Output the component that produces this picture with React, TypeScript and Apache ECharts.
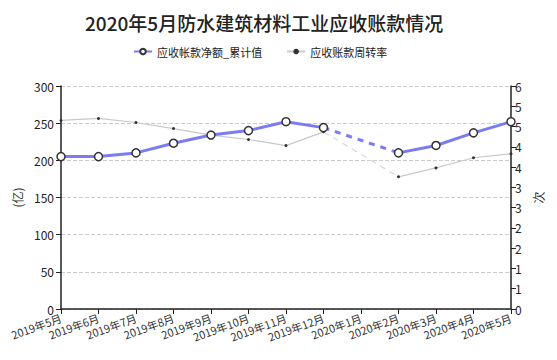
import React, { useEffect, useRef } from "react";
import * as echarts from "echarts";

const categories = [
  "2019年5月", "2019年6月", "2019年7月", "2019年8月", "2019年9月", "2019年10月",
  "2019年11月", "2019年12月", "2020年1月", "2020年2月", "2020年3月", "2020年4月", "2020年5月",
];
const receivables: (number | null)[] = [205, 205, 210, 223, 234, 240, 252, 244, null, 210, 220, 237, 252];
const turnover: (number | null)[] = [4.65, 4.7, 4.6, 4.45, 4.29, 4.18, 4.03, 4.37, null, 3.26, 3.48, 3.73, 3.83];
const receivablesGap: (number | null)[] = [null, null, null, null, null, null, null, 244, null, 210, null, null, null];
const turnoverGap: (number | null)[] = [null, null, null, null, null, null, null, 4.37, null, 3.26, null, null, null];

const FONT = "'Noto Sans CJK SC', 'DejaVu Sans', sans-serif";

export default function App() {
  const ref = useRef<HTMLDivElement>(null);
  useEffect(() => {
    const chart = echarts.init(ref.current!, null, { renderer: "svg" });
    chart.setOption({
      animation: false,
      textStyle: { fontFamily: FONT },
      title: {
        text: "2020年5月防水建筑材料工业应收账款情况",
        left: 80,
        top: 8,
        textStyle: { fontSize: 19, fontWeight: 500, color: "#222", fontFamily: FONT },
      },
      legend: {
        top: 41,
        left: 128,
        itemGap: 24,
        itemWidth: 18,
        itemHeight: 7,
        textStyle: { fontSize: 11, color: "#222", fontFamily: FONT },
        data: [
          { name: "应收帐款净额_累计值" },
          { name: "应收账款周转率" },
        ],
      },
      grid: { left: 61, right: 46, top: 86, bottom: 51 },
      xAxis: {
        type: "category",
        data: categories,
        boundaryGap: false,
        axisLine: { lineStyle: { color: "#222", width: 1.5 } },
        axisTick: { alignWithLabel: true, lineStyle: { color: "#222" } },
        axisLabel: { rotate: 20, fontSize: 11, color: "#333", margin: 8, interval: 0 },
      },
      yAxis: [
        {
          type: "value",
          min: 0,
          max: 300,
          interval: 50,
          name: "(亿)",
          nameLocation: "middle",
          nameGap: 27,
          nameTextStyle: { fontSize: 12, color: "#333" },
          axisLine: { show: true, lineStyle: { color: "#222", width: 1.5 } },
          axisTick: { show: true, lineStyle: { color: "#222" } },
          axisLabel: { fontSize: 12, color: "#222", margin: 7 },
          splitLine: { show: true, lineStyle: { color: "#ccc", type: "dashed" } },
        },
        {
          type: "value",
          min: 0,
          max: 5.5,
          interval: 0.5,
          name: "次",
          nameLocation: "middle",
          nameGap: 21,
          nameTextStyle: { fontSize: 12, color: "#333" },
          axisLine: { show: true, lineStyle: { color: "#222", width: 1.5 } },
          axisTick: { show: true, lineStyle: { color: "#222" } },
          axisLabel: {
            fontSize: 12,
            color: "#222",
            margin: 4,
            formatter: (v: number) => v.toFixed(0),
          },
          splitLine: { show: false },
        },
      ],
      series: [
        {
          name: "应收账款周转率",
          type: "line",
          yAxisIndex: 1,
          data: turnover,
          symbol: "circle",
          symbolSize: 3,
          itemStyle: { color: "#333" },
          lineStyle: { color: "#c8c8c8", width: 1.2 },
          z: 2,
        },
        {
          name: "turnoverGap",
          type: "line",
          yAxisIndex: 1,
          data: turnoverGap,
          connectNulls: true,
          symbol: "none",
          lineStyle: { color: "#d8d8d8", width: 1.2, type: [6, 5] },
          z: 1,
        },
        {
          name: "应收帐款净额_累计值",
          type: "line",
          yAxisIndex: 0,
          data: receivables,
          symbol: "circle",
          symbolSize: 8,
          itemStyle: { color: "#fff", borderColor: "#333", borderWidth: 1.5 },
          lineStyle: { color: "#7b7bf2", width: 3 },
          z: 4,
        },
        {
          name: "receivablesGap",
          type: "line",
          yAxisIndex: 0,
          data: receivablesGap,
          connectNulls: true,
          symbol: "none",
          lineStyle: { color: "#7b7bf2", width: 3, type: [6, 6] },
          z: 3,
        },
      ],
    });
    return () => chart.dispose();
  }, []);
  return <div ref={ref} style={{ width: 557, height: 360, position: "absolute", left: 0, top: 0, background: "#fff" }} />;
}
